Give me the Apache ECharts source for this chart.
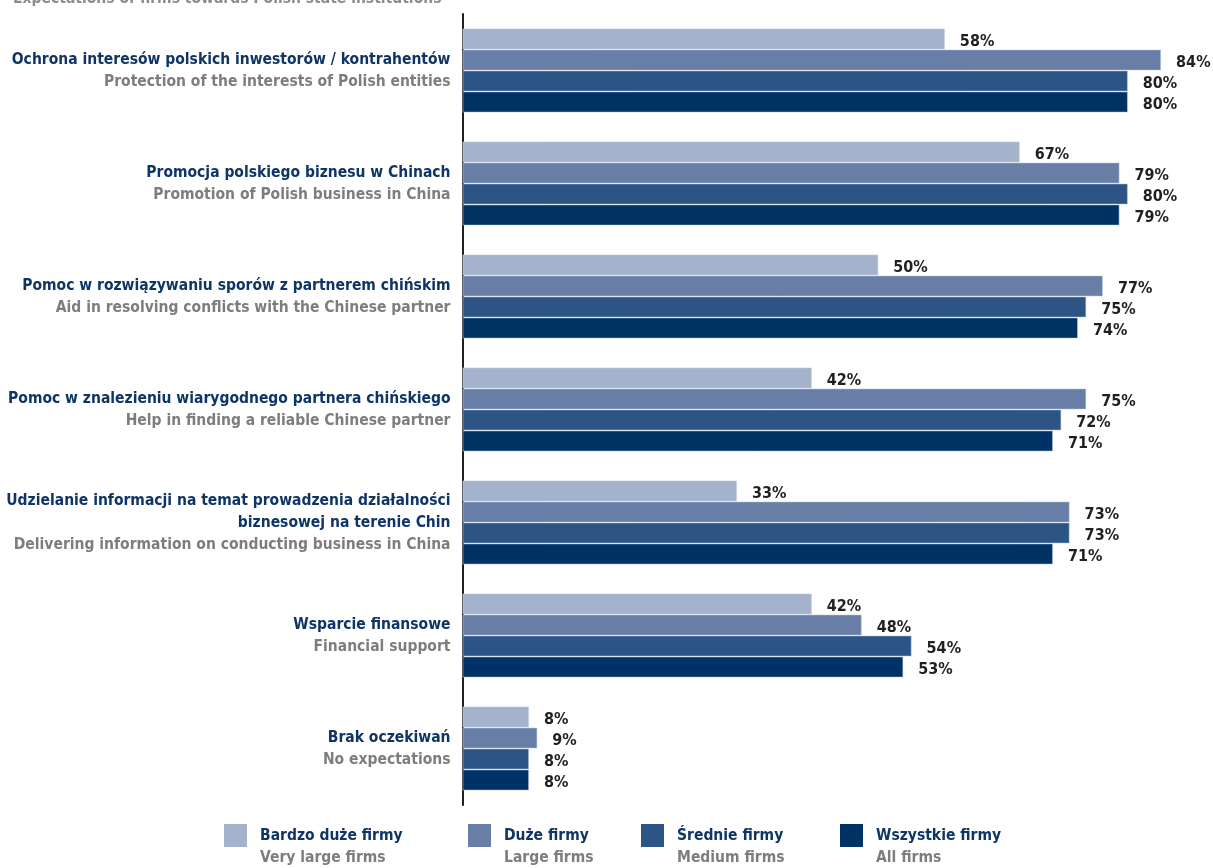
<!DOCTYPE html>
<html>
<head>
<meta charset="utf-8">
<script src="https://cdn.jsdelivr.net/npm/echarts@6/dist/echarts.min.js"></script>
<style>
  html, body { margin: 0; padding: 0; background: #ffffff; }
  #chart { width: 1213px; height: 868px; }
</style>
</head>
<body>
<div id="chart"></div>
<script>
// Expectations of firms towards Polish state institutions (% of answers)
const categoriesPl = [
  ['Ochrona interesów polskich inwestorów / kontrahentów'],
  ['Promocja polskiego biznesu w Chinach'],
  ['Pomoc w rozwiązywaniu sporów z partnerem chińskim'],
  ['Pomoc w znalezieniu wiarygodnego partnera chińskiego'],
  ['Udzielanie informacji na temat prowadzenia działalności', 'biznesowej na terenie Chin'],
  ['Wsparcie finansowe'],
  ['Brak oczekiwań']
];
const categoriesEn = [
  'Protection of the interests of Polish entities',
  'Promotion of Polish business in China',
  'Aid in resolving conflicts with the Chinese partner',
  'Help in finding a reliable Chinese partner',
  'Delivering information on conducting business in China',
  'Financial support',
  'No expectations'
];

const seriesNamesPl = ['Bardzo duże firmy', 'Duże firmy', 'Średnie firmy', 'Wszystkie firmy'];
const seriesNamesEn = ['Very large firms', 'Large firms', 'Medium firms', 'All firms'];
const seriesColors = ['#a4b2cc', '#687ea7', '#2c5485', '#013265'];

const veryLargeFirms = [58, 67, 50, 42, 33, 42, 8];
const largeFirms     = [84, 79, 77, 75, 73, 48, 9];
const mediumFirms    = [80, 80, 75, 72, 73, 54, 8];
const allFirms       = [80, 79, 74, 71, 71, 53, 8];
const seriesValues = [veryLargeFirms, largeFirms, mediumFirms, allFirms];

const FONT = '"Liberation Sans Narrow", "DejaVu Sans Condensed", "Arial Narrow", sans-serif';
const TEXT_SIZE = 15.5;
const NAVY = '#0f3466';
const GREY = '#7d7d7f';

const chart = echarts.init(document.getElementById('chart'), null, { renderer: 'canvas' });

const categoryKeys = categoriesEn.map((_, i) => String(i));

const series = seriesValues.map((vals, s) => ({
  name: seriesNamesPl[s],
  type: 'bar',
  data: vals,
  barWidth: 21,
  barGap: '0%',
  itemStyle: {
    color: seriesColors[s],
    borderColor: 'rgba(196,208,228,0.7)',
    borderWidth: 0.8
  },
  label: {
    show: true,
    position: 'right',
    distance: 15,
    offset: [0, 3],
    formatter: '{c}%',
    fontFamily: FONT,
    fontWeight: 'bold',
    fontSize: 16,
    color: '#231f20'
  },
  emphasis: { disabled: true }
}));

// one legend block per series so each sits at its own spot along the bottom
const legendLefts = [224, 468, 641, 840];
const legends = seriesNamesPl.map((name, s) => ({
  data: [name],
  left: legendLefts[s],
  top: 824,
  padding: 0,
  orient: 'horizontal',
  itemWidth: 23,
  itemHeight: 23,
  icon: 'rect',
  selectedMode: false,
  itemStyle: { borderWidth: 0 },
  formatter: () => '{p|' + seriesNamesPl[s] + '}\n{e|' + seriesNamesEn[s] + '}',
  textStyle: {
    padding: [22, 0, 0, 8],
    rich: {
      p: { fontFamily: FONT, fontWeight: 'bold', fontSize: TEXT_SIZE, color: NAVY, lineHeight: 22 },
      e: { fontFamily: FONT, fontWeight: 'bold', fontSize: TEXT_SIZE, color: GREY, lineHeight: 22 }
    }
  }
}));

chart.setOption({
  animation: false,
  backgroundColor: '#ffffff',
  title: {
    text: 'Expectations of firms towards Polish state institutions',
    left: 8,
    top: -14,
    textStyle: { fontFamily: FONT, fontWeight: 'bold', fontSize: TEXT_SIZE, color: '#8c8c8e' }
  },
  legend: legends,
  grid: {
    left: 462.5, top: 14, width: 748.5, height: 791,
    containLabel: false,
    outerBoundsMode: 'none'
  },
  xAxis: {
    type: 'value',
    min: 0,
    max: 90,
    show: false
  },
  yAxis: {
    type: 'category',
    inverse: true,
    data: categoryKeys,
    axisLine: { show: true, lineStyle: { color: '#231f20', width: 2 } },
    axisTick: { show: false },
    splitLine: { show: false },
    axisLabel: {
      margin: 12,
      align: 'right',
      formatter: (v) => {
        const i = Number(v);
        const pl = categoriesPl[i].map(t => '{p|' + t + '}').join('\n');
        return pl + '\n{e|' + categoriesEn[i] + '}';
      },
      rich: {
        p: { fontFamily: FONT, fontWeight: 'bold', fontSize: TEXT_SIZE, color: NAVY, lineHeight: 22, align: 'right' },
        e: { fontFamily: FONT, fontWeight: 'bold', fontSize: TEXT_SIZE, color: GREY, lineHeight: 22, align: 'right' }
      }
    }
  },
  series: series
});
</script>
</body>
</html>
